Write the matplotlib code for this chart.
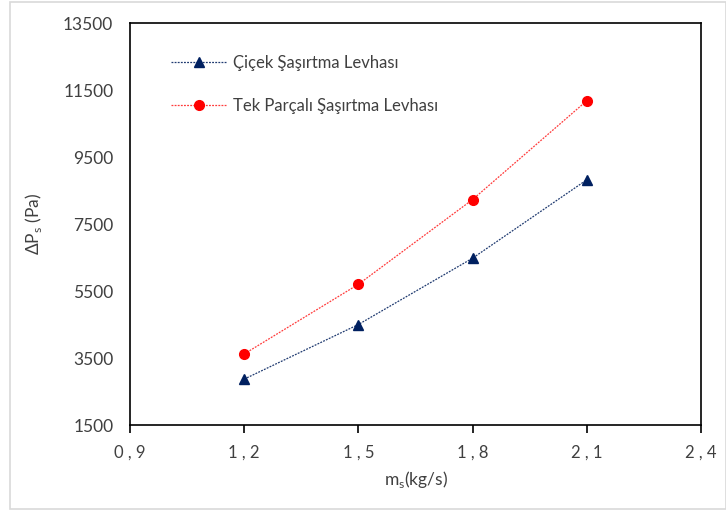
import matplotlib
matplotlib.use("Agg")
import matplotlib.pyplot as plt
from matplotlib.patches import Rectangle

plt.rcParams['font.family'] = ['Lato', 'DejaVu Sans']

x_vals = [1.2, 1.5, 1.8, 2.1]
cicek = [2870, 4500, 6480, 8820]
tek = [3620, 5700, 8230, 11180]
x_ticks = [0.9, 1.2, 1.5, 1.8, 2.1, 2.4]
x_tick_labels = ["0 , 9", "1 , 2", "1 , 5", "1 , 8", "2 , 1", "2 , 4"]
y_ticks = [1500, 3500, 5500, 7500, 9500, 11500, 13500]
series_names = ["Çiçek Şaşırtma Levhası", "Tek Parçalı Şaşırtma Levhası"]

fig = plt.figure(figsize=(7.26, 5.11), dpi=100)
fig.patches.append(Rectangle((10/726, 2/511), 716/726, 507/511, transform=fig.transFigure,
                             fill=False, edgecolor='#D9D9D9', linewidth=1.2))
ax = fig.add_axes([130/726, 1-425/511, 571/726, 402/511])

ax.plot(x_vals, cicek, linestyle=(0, (1.5, 1.0)), color='#1F3A70', linewidth=0.9,
        marker='^', markersize=7, markerfacecolor='#002060', markeredgecolor='#002060',
        label=series_names[0])
ax.plot(x_vals, tek, linestyle=(0, (1.5, 1.0)), color='#FF3B3B', linewidth=0.9,
        marker='o', markersize=7, markerfacecolor='#FF0000', markeredgecolor='#FF0000',
        label=series_names[1])

ax.set_xlim(0.9, 2.4)
ax.set_ylim(1500, 13500)
ax.set_xticks(x_ticks)
ax.set_xticklabels(x_tick_labels)
ax.set_yticks(y_ticks)
for s in ax.spines.values():
    s.set_color('black')
    s.set_linewidth(1.2)
ax.tick_params(axis='x', direction='out', length=6, width=1.2, labelsize=12, colors='black',
               labelcolor='#404040', pad=8)
ax.tick_params(axis='y', direction='out', length=0, labelsize=12.5, labelcolor='#404040', pad=12)

ax.set_xlabel("m$_\\mathregular{s}$(kg/s)", fontsize=12.5, color='#404040', labelpad=6)
ax.set_ylabel("ΔP$_\\mathregular{s}$ (Pa)", fontsize=12.5, color='#404040', labelpad=14)

leg = ax.legend(loc='upper left', bbox_to_anchor=(0.046, 0.958), frameon=False, fontsize=12,
                handlelength=3.3, labelspacing=1.6, handletextpad=0.4)
for t in leg.get_texts():
    t.set_color('#404040')

fig.savefig("out.png", dpi=100)
